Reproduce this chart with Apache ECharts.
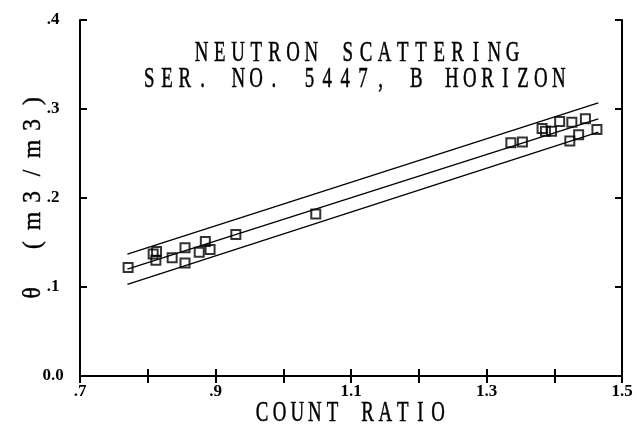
<!DOCTYPE html>
<html>
<head>
<meta charset="utf-8">
<script src="https://cdn.jsdelivr.net/npm/echarts@6/dist/echarts.min.js"></script>
<style>html,body{margin:0;padding:0;background:#fff;}#c{width:637px;height:430px;}</style>
</head>
<body>
<div id="c"></div>
<script>
// Data
const countRatio = [0.771, 0.808, 0.813, 0.812, 0.836, 0.855, 0.855, 0.876, 0.885, 0.892, 0.930, 1.048,
  1.336, 1.353, 1.382, 1.387, 1.396, 1.408, 1.426, 1.423, 1.436, 1.446, 1.463];
const theta = [0.122, 0.137, 0.140, 0.130, 0.133, 0.144, 0.127, 0.139, 0.151, 0.142, 0.159, 0.182,
  0.262, 0.263, 0.278, 0.275, 0.275, 0.286, 0.285, 0.264, 0.271, 0.289, 0.277];
const lineX = [0.77, 1.465];
const upperBand = [0.137, 0.307];
const fitLine = [0.120, 0.289];
const lowerBand = [0.103, 0.274];
const xTickLabels = ['.7', '', '.9', '', '1.1', '', '1.3', '', '1.5'];
const yTickLabels = ['0.0', '.1', '.2', '.3', '.4'];
const titleLines = ['NEUTRON SCATTERING', 'SER. NO. 5447, B HORIZON'];
const xName = 'COUNT RATIO';
const yName = 'θ (m3/m3)';

const chart = echarts.init(document.getElementById('c'), null, {renderer: 'canvas'});
const FONT = '"Liberation Serif", "DejaVu Serif", serif';
const tickLbl = {fontFamily: FONT, fontWeight: 'bold', fontSize: 17, color: '#000'};
const axisCommon = {
  axisLine: {show: true, lineStyle: {color: '#000', width: 2}},
  axisTick: {show: true, inside: true, length: 7, lineStyle: {color: '#000', width: 2}},
  splitLine: {show: false}
};
function xIdx(v) { return Math.round((v - 0.7) / 0.1); }
function yIdx(v) { return Math.round(v / 0.1); }

const lineStyle = {color: '#000', width: 1.3};
function mk(arr) { return lineX.map((x, i) => [x, arr[i]]); }

// fixed-pitch text built from rich-text tokens (one token per character)
function pitched(str) { return str.split('').map(ch => '{c|' + ch + '}').join(''); }
function bigTextEl(str, x, y, pitch, fontSize, scaleX, rotation) {
  return {type: 'text', x: x, y: y, scaleX: scaleX, rotation: rotation || 0,
    style: {text: pitched(str), textAlign: 'center', textVerticalAlign: 'middle',
      rich: {c: {width: pitch / scaleX, align: 'center', fontFamily: FONT, fontSize: fontSize,
        fill: '#000', stroke: '#000', lineWidth: 0.5}}}};
}

chart.setOption({
  animation: false,
  backgroundColor: '#fff',
  grid: {left: 80, right: 15, top: 20, bottom: 54, show: false},
  xAxis: [
    Object.assign({type: 'value', position: 'bottom', min: 0.7, max: 1.5, interval: 0.1,
      axisLabel: Object.assign({margin: 7, formatter: v => xTickLabels[xIdx(v)] || ''}, tickLbl)}, axisCommon),
    Object.assign({type: 'value', position: 'top', min: 0.7, max: 1.5, interval: 0.1,
      axisLabel: {show: false}}, axisCommon)
  ],
  yAxis: [
    Object.assign({type: 'value', position: 'left', min: 0, max: 0.4, interval: 0.1,
      axisLabel: Object.assign({margin: 27, align: 'center', formatter: v => yTickLabels[yIdx(v)] || ''}, tickLbl)}, axisCommon),
    Object.assign({type: 'value', position: 'right', min: 0, max: 0.4, interval: 0.1,
      axisLabel: {show: false}}, axisCommon)
  ],
  series: [
    {type: 'line', data: mk(upperBand), symbol: 'none', lineStyle: lineStyle, silent: true},
    {type: 'line', data: mk(fitLine), symbol: 'none', lineStyle: lineStyle, silent: true},
    {type: 'line', data: mk(lowerBand), symbol: 'none', lineStyle: lineStyle, silent: true},
    {type: 'scatter', data: countRatio.map((x, i) => [x, theta[i]]), symbol: 'rect', symbolSize: 9,
      itemStyle: {color: 'rgba(0,0,0,0)', borderColor: '#000', borderWidth: 2}}
  ],
  graphic: [
    bigTextEl(titleLines[0], 357, 53, 18.3, 29, 0.65),
    bigTextEl(titleLines[1], 354, 79, 17.8, 29, 0.65),
    bigTextEl(xName, 350, 413, 17.6, 29, 0.65),
    bigTextEl(yName, 33, 197, 24, 26, 0.9, Math.PI / 2)
  ]
});
</script>
</body>
</html>
